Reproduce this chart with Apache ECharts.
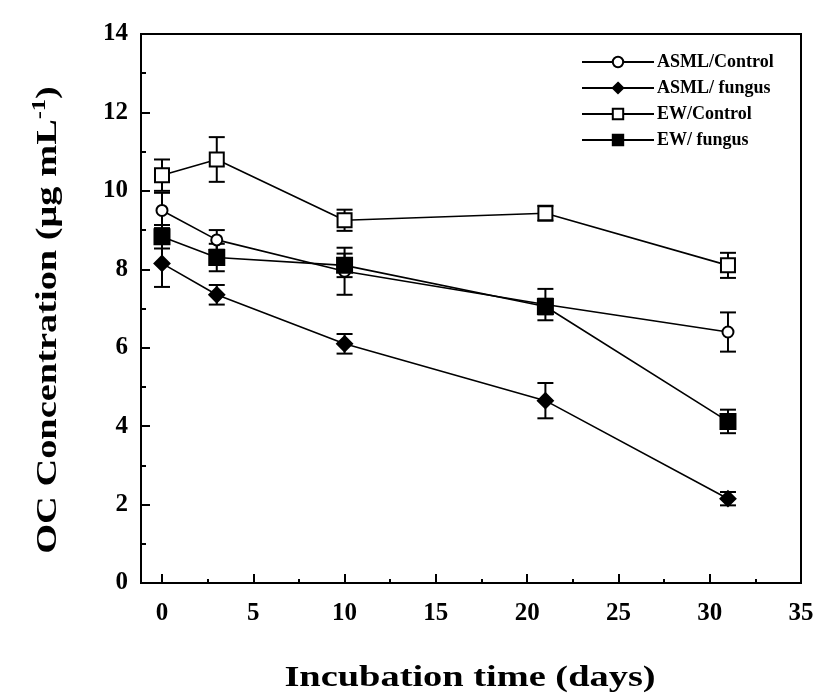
<!DOCTYPE html>
<html>
<head>
<meta charset="utf-8">
<script src="https://cdn.jsdelivr.net/npm/echarts@6/dist/echarts.min.js"></script>
<style>html,body{margin:0;padding:0;background:#fff}#c{width:819px;height:697px}</style>
</head>
<body>
<div id="c"></div>
<script>
const days = [0, 3, 10, 21, 31];
const seriesNames = ['ASML/Control', 'ASML/ fungus', 'EW/Control', 'EW/ fungus'];
const asmlControl = [9.5, 8.75, 7.95, 7.1, 6.4];
const asmlControlErr = [0.45, 0.25, 0.6, 0.4, 0.5];
const asmlFungus = [8.15, 7.35, 6.1, 4.65, 2.15];
const asmlFungusErr = [0.6, 0.25, 0.25, 0.45, 0.17];
const ewControl = [10.4, 10.8, 9.25, 9.43, 8.1];
const ewControlErr = [0.4, 0.57, 0.27, 0.19, 0.32];
const ewFungus = [8.83, 8.3, 8.1, 7.05, 4.12];
const ewFungusErr = [0.3, 0.35, 0.3, 0.2, 0.3];
const xTicks = [0, 5, 10, 15, 20, 25, 30, 35];
const xMinorTicks = [2.5, 7.5, 12.5, 17.5, 22.5, 27.5, 32.5];
const xTitle = 'Incubation time (days)';
const yTitleMain = 'OC Concentration (μg mL';
const yTitleSup = '-1';

const FONT = '"Liberation Serif", "Times New Roman", serif';
const chart = echarts.init(document.getElementById('c'), null, {renderer: 'canvas'});

function pts(vals) { return days.map((d, i) => [d, vals[i]]); }
function errs(vals, e) { return days.map((d, i) => [d, vals[i] - e[i], vals[i] + e[i]]); }

function errSeries(vals, e) {
  return {
    type: 'custom',
    xAxisIndex: 0, yAxisIndex: 0,
    silent: true, z: 1,
    data: errs(vals, e),
    encode: {x: 0, y: [1, 2]},
    renderItem: function (params, api) {
      const x = api.value(0);
      const lo = api.coord([x, api.value(1)]);
      const hi = api.coord([x, api.value(2)]);
      const w = 8;
      const st = {stroke: '#000', lineWidth: 2};
      return {
        type: 'group',
        children: [
          {type: 'line', shape: {x1: lo[0], y1: lo[1], x2: hi[0], y2: hi[1]}, style: st},
          {type: 'line', shape: {x1: lo[0] - w, y1: lo[1], x2: lo[0] + w, y2: lo[1]}, style: st},
          {type: 'line', shape: {x1: hi[0] - w, y1: hi[1], x2: hi[0] + w, y2: hi[1]}, style: st}
        ]
      };
    }
  };
}

function lineSeries(name, vals, symbol, size, open) {
  return {
    name: name,
    type: 'line',
    xAxisIndex: 0, yAxisIndex: 0,
    data: pts(vals),
    symbol: symbol,
    symbolSize: size,
    showAllSymbol: true,
    z: 3,
    lineStyle: {color: '#000', width: 1.6},
    itemStyle: {color: open ? '#fff' : '#000', borderColor: '#000', borderWidth: 2, opacity: 1},
    emphasis: {disabled: true}
  };
}

const option = {
  animation: false,
  backgroundColor: '#fff',
  grid: {left: 141, right: 18, top: 34, bottom: 114, show: true, borderColor: '#000', borderWidth: 2, backgroundColor: 'transparent'},
  legend: {
    orient: 'vertical',
    left: 576, top: 48,
    itemWidth: 72, itemHeight: 13,
    itemGap: 8,
    data: seriesNames,
    textStyle: {fontFamily: FONT, fontWeight: 'bold', fontSize: 18, color: '#000', padding: [0, 0, 0, -2]}
  },
  graphic: [
    {
      type: 'text', x: 48, y: 320, rotation: Math.PI / 2, scaleX: 1.28,
      style: {
        text: '{a|' + yTitleMain + '}{s|' + yTitleSup + '}{a|)}',
        align: 'center', verticalAlign: 'middle',
        rich: {
          a: {fontFamily: FONT, fontWeight: 'bold', fontSize: 30, fill: '#000', color: '#000'},
          s: {fontFamily: FONT, fontWeight: 'bold', fontSize: 19, fill: '#000', color: '#000', verticalAlign: 'top', padding: [0, 0, 16, 0]}
        }
      }
    },
    {
      type: 'text', x: 470, y: 678, scaleX: 1.28,
      style: {
        text: xTitle, align: 'center', verticalAlign: 'middle',
        font: 'bold 30px ' + FONT, fill: '#000'
      }
    }
  ],
  xAxis: [{
    type: 'value', min: -1.15, max: 35,
    position: 'bottom',
    axisLine: {show: true, onZero: false, lineStyle: {color: '#000', width: 2}},
    axisTick: {show: true, inside: true, length: 9, lineStyle: {color: '#000', width: 2}, customValues: xTicks},
    axisLabel: {customValues: xTicks, margin: 18, fontFamily: FONT, fontWeight: 'bold', fontSize: 25, color: '#000'},
    splitLine: {show: false}
  }, {
    type: 'value', min: -1.15, max: 35,
    position: 'bottom',
    axisLine: {show: false, onZero: false},
    axisTick: {show: true, inside: true, length: 4, lineStyle: {color: '#000', width: 2}, customValues: xMinorTicks},
    axisLabel: {show: false},
    splitLine: {show: false}
  }],
  yAxis: {
    type: 'value', min: 0, max: 14, interval: 2,
    axisLine: {show: true, onZero: false, lineStyle: {color: '#000', width: 2}},
    axisTick: {show: true, inside: true, length: 9, lineStyle: {color: '#000', width: 2}},
    minorTick: {show: true, splitNumber: 2, length: 5, lineStyle: {color: '#000', width: 2}},
    axisLabel: {margin: 13, fontFamily: FONT, fontWeight: 'bold', fontSize: 25, color: '#000'},
    splitLine: {show: false}
  },
  series: [
    errSeries(asmlControl, asmlControlErr),
    errSeries(asmlFungus, asmlFungusErr),
    errSeries(ewControl, ewControlErr),
    errSeries(ewFungus, ewFungusErr),
    lineSeries(seriesNames[0], asmlControl, 'circle', 11, true),
    lineSeries(seriesNames[1], asmlFungus, 'diamond', 15, false),
    lineSeries(seriesNames[2], ewControl, 'rect', 14, true),
    lineSeries(seriesNames[3], ewFungus, 'rect', 15, false)
  ]
};
chart.setOption(option);
</script>
</body>
</html>
